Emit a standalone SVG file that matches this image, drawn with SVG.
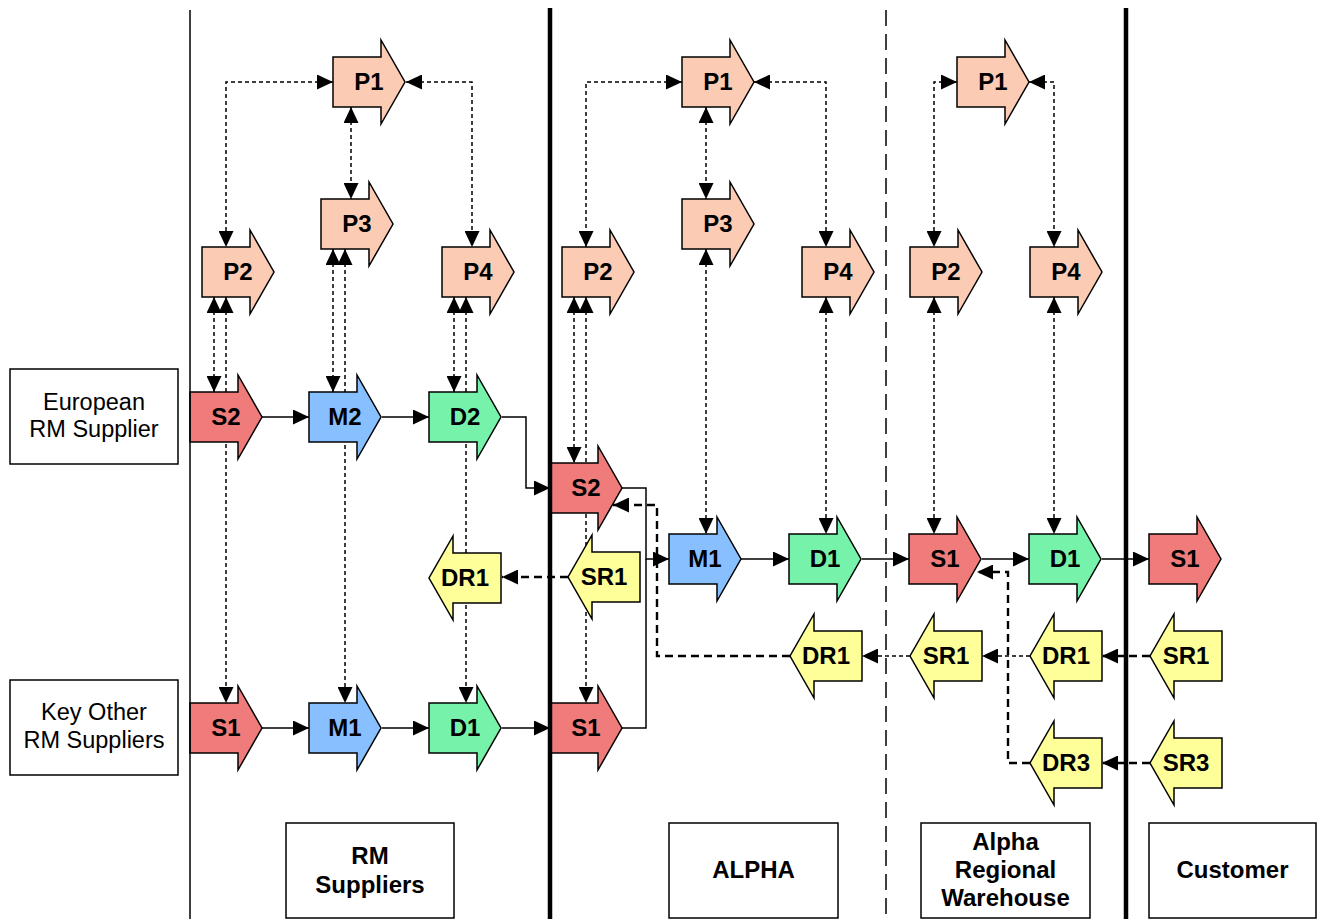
<svg xmlns="http://www.w3.org/2000/svg" xmlns:xlink="http://www.w3.org/1999/xlink" width="1317" height="919" viewBox="0 0 1317 919">
<style>
.nd use{stroke:#000;stroke-width:1.5;stroke-linejoin:miter}
.p{fill:#FBCBB3}.s{fill:#F07B7B}.m{fill:#88C0FF}.d{fill:#76F2AA}.r{fill:#FFFF99}
.lb{font-family:"Liberation Sans",Arial,sans-serif;font-weight:bold;font-size:24px;text-anchor:middle;fill:#000}
.bx{fill:#fff;stroke:#000;stroke-width:1.5}
.bt{font-family:"Liberation Sans",Arial,sans-serif;font-size:23.5px;text-anchor:middle;fill:#000}
.bb{font-family:"Liberation Sans",Arial,sans-serif;font-weight:bold;font-size:24px;text-anchor:middle;fill:#000}
.cp{fill:none;stroke:#000;stroke-width:1.5;stroke-dasharray:4 3;marker-start:url(#ah);marker-end:url(#ah)}
.cs{fill:none;stroke:#000;stroke-width:1.5}
.ca{marker-end:url(#ah)}
.rt{fill:none;stroke:#000;stroke-width:2.4;stroke-dasharray:8 5;marker-end:url(#ah)}
.rn{fill:none;stroke:#000;stroke-width:1.5;stroke-dasharray:4 3;marker-end:url(#ah)}
.ln{stroke:#000;fill:none}
</style>
<defs>
<marker id="ah" viewBox="0 0 16 15" refX="16" refY="7.5" markerWidth="16" markerHeight="15" markerUnits="userSpaceOnUse" orient="auto-start-reverse"><path d="M0,0 L16,7.5 L0,15 Z" fill="#000"/></marker>
<path id="ra" d="M0,-25 H48 V-42 L72,0 L48,42 V25 H0 Z"/>
<path id="la" d="M72,-25 H24 V-42 L0,0 L24,42 V25 H72 Z"/>
</defs>

<g id="connectors">
<!-- RM planning -->
<path class="cp" d="M333,82 H226 V247"/>
<path class="cp" d="M406,82 H472 V247"/>
<path class="cp" d="M351,107 V199"/>
<path class="cp" d="M214,297 V392"/>
<path class="cp" d="M226,297 V703"/>
<path class="cp" d="M333,249 V392"/>
<path class="cp" d="M345,249 V703"/>
<path class="cp" d="M454,297 V392"/>
<path class="cp" d="M466,297 V703"/>
<!-- ALPHA planning -->
<path class="cp" d="M682,82 H586 V247"/>
<path class="cp" d="M754,82 H826 V247"/>
<path class="cp" d="M706,107 V199"/>
<path class="cp" d="M574,297 V463"/>
<path class="cp" d="M586,297 V703"/>
<path class="cp" d="M706,249 V534"/>
<path class="cp" d="M826,297 V534"/>
<!-- Warehouse planning -->
<path class="cp" d="M957,82 H934 V247"/>
<path class="cp" d="M1029,82 H1054 V247"/>
<path class="cp" d="M934,297 V534"/>
<path class="cp" d="M1054,297 V534"/>
<!-- solid flows -->
<path class="cs ca" d="M262,417 H309"/>
<path class="cs ca" d="M382,417 H429"/>
<path class="cs ca" d="M502,417 H526 V488 H550"/>
<path class="cs ca" d="M262,728 H309"/>
<path class="cs ca" d="M382,728 H429"/>
<path class="cs ca" d="M502,728 H550"/>
<path class="cs ca" d="M622,488 H646 V559 H669"/>
<path class="cs" d="M622,728 H646 V559"/>
<path class="cs ca" d="M741,559 H789"/>
<path class="cs ca" d="M862,559 H909"/>
<path class="cs ca" d="M982,559 H1029"/>
<path class="cs ca" d="M1102,559 H1149"/>
<!-- return flows -->
<path class="rt" d="M568,577 H502"/>
<path class="rt" d="M790,656 H657 V505 H613"/>
<path class="rn" d="M910,656 H862"/>
<path class="rn" d="M1030,656 H982"/>
<path class="rt" d="M1150,656 H1102"/>
<path class="rt" d="M1150,763 H1102"/>
<path class="rt" d="M1030,763 H1008 V572 H977"/>
</g>

<g class="nd">
<g id="rm-p1"><use href="#ra" x="333" y="82" class="p"/><text class="lb" x="369" y="90">P1</text></g>
<g id="rm-p3"><use href="#ra" x="321" y="224" class="p"/><text class="lb" x="357" y="232">P3</text></g>
<g id="rm-p2"><use href="#ra" x="202" y="272" class="p"/><text class="lb" x="238" y="280">P2</text></g>
<g id="rm-p4"><use href="#ra" x="442" y="272" class="p"/><text class="lb" x="478" y="280">P4</text></g>
<g id="rm-s2"><use href="#ra" x="190" y="417" class="s"/><text class="lb" x="226" y="425">S2</text></g>
<g id="rm-m2"><use href="#ra" x="309" y="417" class="m"/><text class="lb" x="345" y="425">M2</text></g>
<g id="rm-d2"><use href="#ra" x="429" y="417" class="d"/><text class="lb" x="465" y="425">D2</text></g>
<g id="rm-dr1"><use href="#la" x="429" y="578" class="r"/><text class="lb" x="465" y="586">DR1</text></g>
<g id="rm-s1"><use href="#ra" x="190" y="728" class="s"/><text class="lb" x="226" y="736">S1</text></g>
<g id="rm-m1"><use href="#ra" x="309" y="728" class="m"/><text class="lb" x="345" y="736">M1</text></g>
<g id="rm-d1"><use href="#ra" x="429" y="728" class="d"/><text class="lb" x="465" y="736">D1</text></g>

<g id="al-p1"><use href="#ra" x="682" y="82" class="p"/><text class="lb" x="718" y="90">P1</text></g>
<g id="al-p3"><use href="#ra" x="682" y="224" class="p"/><text class="lb" x="718" y="232">P3</text></g>
<g id="al-p2"><use href="#ra" x="562" y="272" class="p"/><text class="lb" x="598" y="280">P2</text></g>
<g id="al-p4"><use href="#ra" x="802" y="272" class="p"/><text class="lb" x="838" y="280">P4</text></g>
<g id="al-s2"><use href="#ra" x="550" y="488" class="s"/><text class="lb" x="586" y="496">S2</text></g>
<g id="al-sr1"><use href="#la" x="568" y="577" class="r"/><text class="lb" x="604" y="585">SR1</text></g>
<g id="al-m1"><use href="#ra" x="669" y="559" class="m"/><text class="lb" x="705" y="567">M1</text></g>
<g id="al-d1"><use href="#ra" x="789" y="559" class="d"/><text class="lb" x="825" y="567">D1</text></g>
<g id="al-dr1"><use href="#la" x="790" y="656" class="r"/><text class="lb" x="826" y="664">DR1</text></g>
<g id="al-s1"><use href="#ra" x="550" y="728" class="s"/><text class="lb" x="586" y="736">S1</text></g>

<g id="wh-p1"><use href="#ra" x="957" y="82" class="p"/><text class="lb" x="993" y="90">P1</text></g>
<g id="wh-p2"><use href="#ra" x="910" y="272" class="p"/><text class="lb" x="946" y="280">P2</text></g>
<g id="wh-p4"><use href="#ra" x="1030" y="272" class="p"/><text class="lb" x="1066" y="280">P4</text></g>
<g id="wh-s1"><use href="#ra" x="909" y="559" class="s"/><text class="lb" x="945" y="567">S1</text></g>
<g id="wh-d1"><use href="#ra" x="1029" y="559" class="d"/><text class="lb" x="1065" y="567">D1</text></g>
<g id="wh-sr1"><use href="#la" x="910" y="656" class="r"/><text class="lb" x="946" y="664">SR1</text></g>
<g id="wh-dr1"><use href="#la" x="1030" y="656" class="r"/><text class="lb" x="1066" y="664">DR1</text></g>
<g id="wh-dr3"><use href="#la" x="1030" y="763" class="r"/><text class="lb" x="1066" y="771">DR3</text></g>

<g id="cu-s1"><use href="#ra" x="1149" y="559" class="s"/><text class="lb" x="1185" y="567">S1</text></g>
<g id="cu-sr1"><use href="#la" x="1150" y="656" class="r"/><text class="lb" x="1186" y="664">SR1</text></g>
<g id="cu-sr3"><use href="#la" x="1150" y="763" class="r"/><text class="lb" x="1186" y="771">SR3</text></g>
</g>

<g id="lanes">
<line class="ln" x1="190" y1="10" x2="190" y2="919" stroke-width="1.5"/>
<line class="ln" x1="550" y1="8" x2="550" y2="919" stroke-width="4.5"/>
<line class="ln" x1="886" y1="10" x2="886" y2="919" stroke-width="1.5" stroke-dasharray="16 8"/>
<line class="ln" x1="1126" y1="8" x2="1126" y2="919" stroke-width="4.5"/>
</g>

<g id="label-european"><rect class="bx" x="10" y="369" width="168" height="95"/><text class="bt" x="94" y="410">European</text><text class="bt" x="94" y="437">RM Supplier</text></g>
<g id="label-keyother"><rect class="bx" x="10" y="680" width="168" height="95"/><text class="bt" x="94" y="720">Key Other</text><text class="bt" x="94" y="748">RM Suppliers</text></g>
<g id="label-rm"><rect class="bx" x="286" y="823" width="168" height="95"/><text class="bb" x="370" y="864">RM</text><text class="bb" x="370" y="893">Suppliers</text></g>
<g id="label-alpha"><rect class="bx" x="669" y="823" width="169" height="95"/><text class="bb" x="753.5" y="878">ALPHA</text></g>
<g id="label-warehouse"><rect class="bx" x="921" y="823" width="169" height="95"/><text class="bb" x="1005.5" y="850">Alpha</text><text class="bb" x="1005.5" y="878">Regional</text><text class="bb" x="1005.5" y="906">Warehouse</text></g>
<g id="label-customer"><rect class="bx" x="1149" y="823" width="167" height="95"/><text class="bb" x="1232.5" y="878">Customer</text></g>
</svg>
